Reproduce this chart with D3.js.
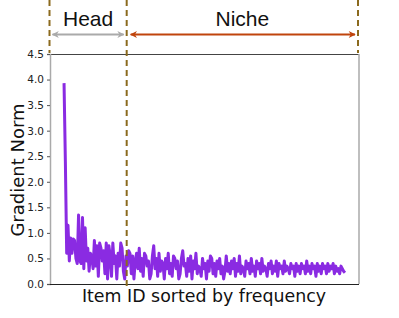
<!DOCTYPE html>
<html><head><meta charset="utf-8">
<script src="https://cdn.jsdelivr.net/npm/d3@7"></script>
<style>body{margin:0;background:#fff}svg{display:block}</style>
</head><body>
<script>
const gradientNorm = [
3.93,2.4,0.6,1.15,0.45,0.9,0.6,0.88,0.85,0.5,
0.4,1.35,0.45,0.4,1.3,0.3,1.1,0.45,0.7,0.25,
0.6,0.55,0.3,0.85,0.35,0.75,0.15,0.8,0.7,0.45,
0.65,0.2,0.8,0.1,0.75,0.55,0.15,0.8,0.4,0.55,
0.1,0.6,0.35,0.8,0.7,0.25,0.1,0.55,
0.35,0.65,0.6,0.2,0.55,0.1,0.45,0.6,0.3,0.7,
0.25,0.5,0.15,0.6,0.55,0.35,0.45,0.1,0.2,0.55,
0.75,0.3,0.5,0.15,0.6,0.25,0.45,0.4,0.1,0.5,
0.3,0.6,0.2,0.4,0.15,0.55,0.5,0.3,0.45,0.1,
0.2,0.5,0.65,0.35,0.4,0.15,0.5,0.25,0.55,0.1,
0.45,0.3,0.6,0.2,0.35,0.3,0.15,0.5,0.3,0.4,
0.1,0.45,0.25,0.55,0.5,0.2,0.4,0.15,0.45,0.3,
0.5,0.2,0.35,0.1,0.25,0.55,0.25,0.4,0.2,0.45,
0.3,0.5,0.15,0.4,0.25,0.55,0.2,0.35,0.3,0.15,
0.45,0.3,0.4,0.2,0.5,0.25,0.35,0.15,0.45,0.3,
0.4,0.2,0.5,0.25,0.35,0.3,0.15,0.4,0.3,0.45,
0.2,0.35,0.25,0.45,0.15,0.4,0.3,0.35,0.2,0.45,
0.25,0.35,0.3,0.2,0.4,0.3,0.35,0.15,0.4,0.25,
0.35,0.2,0.4,0.3,0.35,0.2,0.45,0.25,0.35,0.2,
0.4,0.3,0.35,0.15,0.4,0.25,0.35,0.2,0.4,0.3,
0.35,0.2,0.4,0.25,0.35,0.3,0.4,0.2,0.35,0.25,
0.3,0.2,0.35,0.3,0.25,0.22
];
const yTicks = [0,0.5,1,1.5,2,2.5,3,3.5,4,4.5];
const groupLabels = ["Head","Niche"];
const headFraction = 0.223;

const W=399,H=318;
const svg=d3.select("body").append("svg").attr("width",W).attr("height",H);
const N=gradientNorm.length;
const headEnd = headFraction*(N-1);
const x=d3.scaleLinear().domain([-0.05*(N-1),1.05*(N-1)]).range([50,359]);
const y=d3.scaleLinear().domain([0,4.5]).range([284,54]);

// frame
svg.append("line").attr("x1",50).attr("x2",359).attr("y1",54.5).attr("y2",54.5).attr("stroke","#444").attr("stroke-width",1);
svg.append("line").attr("x1",359).attr("x2",359).attr("y1",54).attr("y2",284).attr("stroke","#aaa").attr("stroke-width",1.5);

// y axis
const ya=svg.append("g").attr("transform","translate(50,0)").call(d3.axisLeft(y).tickValues(yTicks).tickFormat(d3.format(".1f")).tickSize(3).tickPadding(3));
ya.select(".domain").attr("stroke","#aaa").attr("stroke-width",1.5);
ya.selectAll(".tick line").attr("stroke","#555");
ya.selectAll("text").attr("font-family","DejaVu Sans").attr("font-size",10.5).attr("fill","#222");

// x axis line
svg.append("line").attr("x1",50).attr("x2",359).attr("y1",284.5).attr("y2",284.5).attr("stroke","#222").attr("stroke-width",1);

// series
const line=d3.line().x((d,i)=>x(i)).y(d=>y(d));
svg.append("path").datum(gradientNorm).attr("d",line).attr("fill","none").attr("stroke","#8a2be2").attr("stroke-width",3).attr("stroke-linejoin","round");

// dashed boundaries
const dashC="#8b6a1e";
const xL=x.range()[0]-0.5, xR=x.range()[1]-1, xM=x(headEnd);
[[xL,0,53],[xR,0,53],[xM,0,288]].forEach(([xx,a,b])=>{
  svg.append("line").attr("x1",xx).attr("x2",xx).attr("y1",a).attr("y2",b).attr("stroke",dashC).attr("stroke-width",2).attr("stroke-dasharray","6,4");
});

// arrows
const defs=svg.append("defs");
function mk(id,c){
  defs.append("marker").attr("id",id).attr("viewBox","0 0 10 10").attr("refX",9).attr("refY",5).attr("markerWidth",8).attr("markerHeight",7).attr("orient","auto-start-reverse").attr("markerUnits","userSpaceOnUse")
  .append("path").attr("d","M0,0 L10,5 L0,10 L3,5 Z").attr("fill",c);
}
mk("ag","#aaaaaa"); mk("ao","#c0440c");
svg.append("line").attr("x1",xL+3).attr("x2",xM-3).attr("y1",34.5).attr("y2",34.5).attr("stroke","#aaaaaa").attr("stroke-width",1.8).attr("marker-start","url(#ag)").attr("marker-end","url(#ag)");
svg.append("line").attr("x1",xM+4).attr("x2",xR-3).attr("y1",34.5).attr("y2",34.5).attr("stroke","#c0440c").attr("stroke-width",1.8).attr("marker-start","url(#ao)").attr("marker-end","url(#ao)");

svg.append("text").attr("x",(xL+xM)/2).attr("y",26).attr("text-anchor","middle").attr("font-family","Liberation Sans, Arial").attr("font-size",21).attr("fill","#111").text(groupLabels[0]);
svg.append("text").attr("x",(xM+xR)/2).attr("y",26).attr("text-anchor","middle").attr("font-family","Liberation Sans, Arial").attr("font-size",21).attr("fill","#111").text(groupLabels[1]);

// axis titles
svg.append("text").attr("transform","translate(24,170) rotate(-90)").attr("text-anchor","middle").attr("font-family","DejaVu Sans").attr("font-size",18).attr("fill","#111").text("Gradient Norm");
svg.append("text").attr("x",204).attr("y",302).attr("text-anchor","middle").attr("font-family","DejaVu Sans").attr("font-size",17.4).attr("fill","#111").text("Item ID sorted by frequency");
</script>
</body></html>
